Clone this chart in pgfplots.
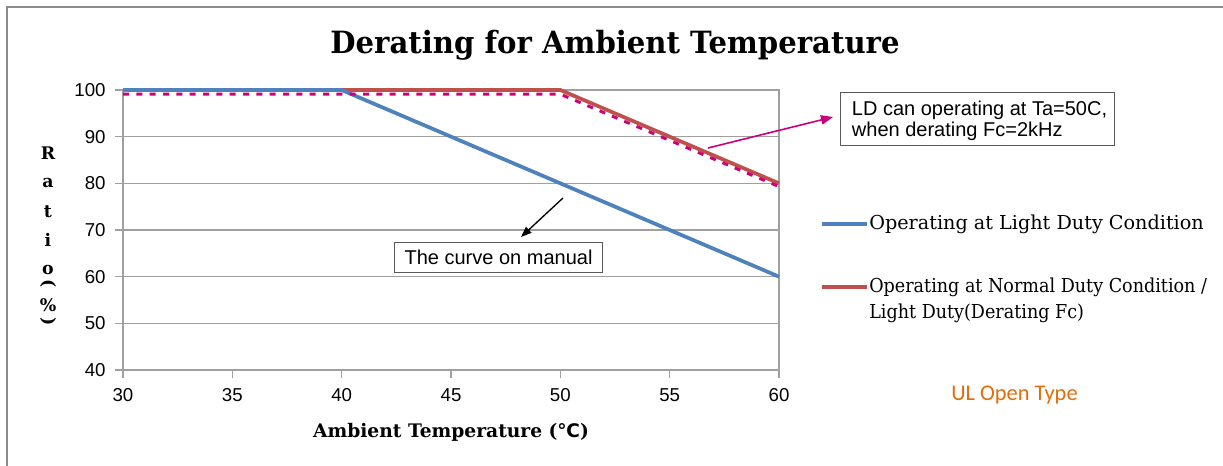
\documentclass[border=0pt]{standalone}
\usepackage{pgfplots}
\pgfplotsset{compat=1.18}
\usepackage{fontspec}
\setmainfont{Liberation Sans}
\newfontfamily\serifb{DejaVu Serif}
\newfontfamily\legtwo{DejaVu Serif}[FakeStretch=0.915]
\newfontfamily\titlefont{DejaVu Serif}[FakeStretch=0.95]
\newfontfamily\carl{Carlito}
\newfontfamily\dvs{DejaVu Sans}
\usetikzlibrary{arrows.meta}
\definecolor{lblue}{RGB}{79,129,189}
\definecolor{lred}{RGB}{192,80,77}
\definecolor{mag}{RGB}{204,0,122}
\definecolor{gridg}{RGB}{160,160,160}
\definecolor{ulor}{RGB}{228,108,10}
\definecolor{frameg}{RGB}{140,140,140}
\begin{document}
\begin{tikzpicture}
\useasboundingbox (0pt,0pt) rectangle (917.25pt,-349.5pt);
\begin{axis}[
  at={(92.25pt,-277.5pt)}, anchor=south west,
  scale only axis, width=492pt, height=210pt,
  xmin=30, xmax=60, ymin=40, ymax=100,
  xtick={30,35,...,60}, ytick={40,50,...,100},
  xtick pos=bottom, ytick pos=left,
  ymajorgrids, grid style={gridg, line width=1pt},
  axis line style={gridg, line width=1.3pt},
  tick style={gridg, line width=1pt},
  tick align=outside, major tick length=6pt,
  ticklabel style={font=\fontsize{14}{16}\selectfont},
  xticklabel style={yshift=-4.5pt},
  yticklabel style={xshift=-3.5pt},
  /pgf/number format/assume math mode=true,
  clip=false,
  xlabel={\serifb\bfseries Ambient Temperature ({\dvs\bfseries ℃})},
  xlabel style={font=\fontsize{14}{16}\selectfont, yshift=-9pt},
]
\addplot[lred, line width=2.8pt, forget plot] coordinates {(30,100) (50,100) (60,80)};
\addplot[lblue, line width=2.8pt, forget plot] coordinates {(30,100) (40,100) (60,60)};
\addplot[mag, line width=2.2pt, dash pattern=on 4.5pt off 5.5pt, forget plot] coordinates {(30,99.1) (50,99.1) (60,79.3)};
\end{axis}
\begin{scope}[x=0.75pt,y=-0.75pt]
\draw[frameg, line width=1.5pt] (7,466) -- (7,7) -- (1223,7);
\node[font=\titlefont\bfseries\fontsize{23}{27}\selectfont] at (615,45) {Derating for Ambient Temperature};
% y label
\begin{scope}[font=\serifb\bfseries\fontsize{13}{15}\selectfont]
\node at (48,153) {R};
\node at (48,183) {a};
\node at (48,212) {t};
\node at (48,240) {i};
\node at (48,270) {o};
\node[rotate=-90] at (48,284) {(};
\node at (48,305) {\%};
\node[rotate=-90] at (48,322) {)};
\end{scope}
% annotations
\node[draw=gray!70!black, line width=0.8pt, align=left, anchor=north west, inner sep=0pt,
  minimum width=274*0.75pt, minimum height=53*0.75pt, text depth=0pt,
  font=\fontsize{15}{15.5}\selectfont] (b1) at (840,92)
  {\hspace{3pt}LD can operating at Ta=50C,\\\hspace{3pt}when derating Fc=2kHz};
\draw[mag, line width=1.2pt, -{Triangle[length=9pt,width=7pt]}] (708,148) -- (833,117);
\node[draw=gray!70!black, line width=0.8pt, anchor=north west, inner sep=0pt,
  minimum width=208*0.75pt, minimum height=30*0.75pt,
  font=\fontsize{15}{17}\selectfont] at (394,242) {The curve on manual};
\draw[black, line width=1pt, -{Triangle[length=8pt,width=6pt]}] (563,198) -- (521,237);
% legend
\draw[lblue, line width=2.8pt] (822,224) -- (867,224);
\node[anchor=west, inner sep=0pt, font=\serifb\fontsize{14.4}{17}\selectfont] at (869,224) {Operating at Light Duty Condition};
\draw[lred, line width=2.8pt] (822,287) -- (867,287);
\node[anchor=north west, inner sep=0pt, align=left, font=\legtwo\fontsize{14.4}{19}\selectfont] at (869,278) {Operating at Normal Duty Condition /\\Light Duty(Derating Fc)};
\node[text=ulor, font=\carl\fontsize{16.8}{18}\selectfont, anchor=west, inner sep=0pt] at (951,395) {UL Open Type};
\end{scope}
\end{tikzpicture}
\end{document}
